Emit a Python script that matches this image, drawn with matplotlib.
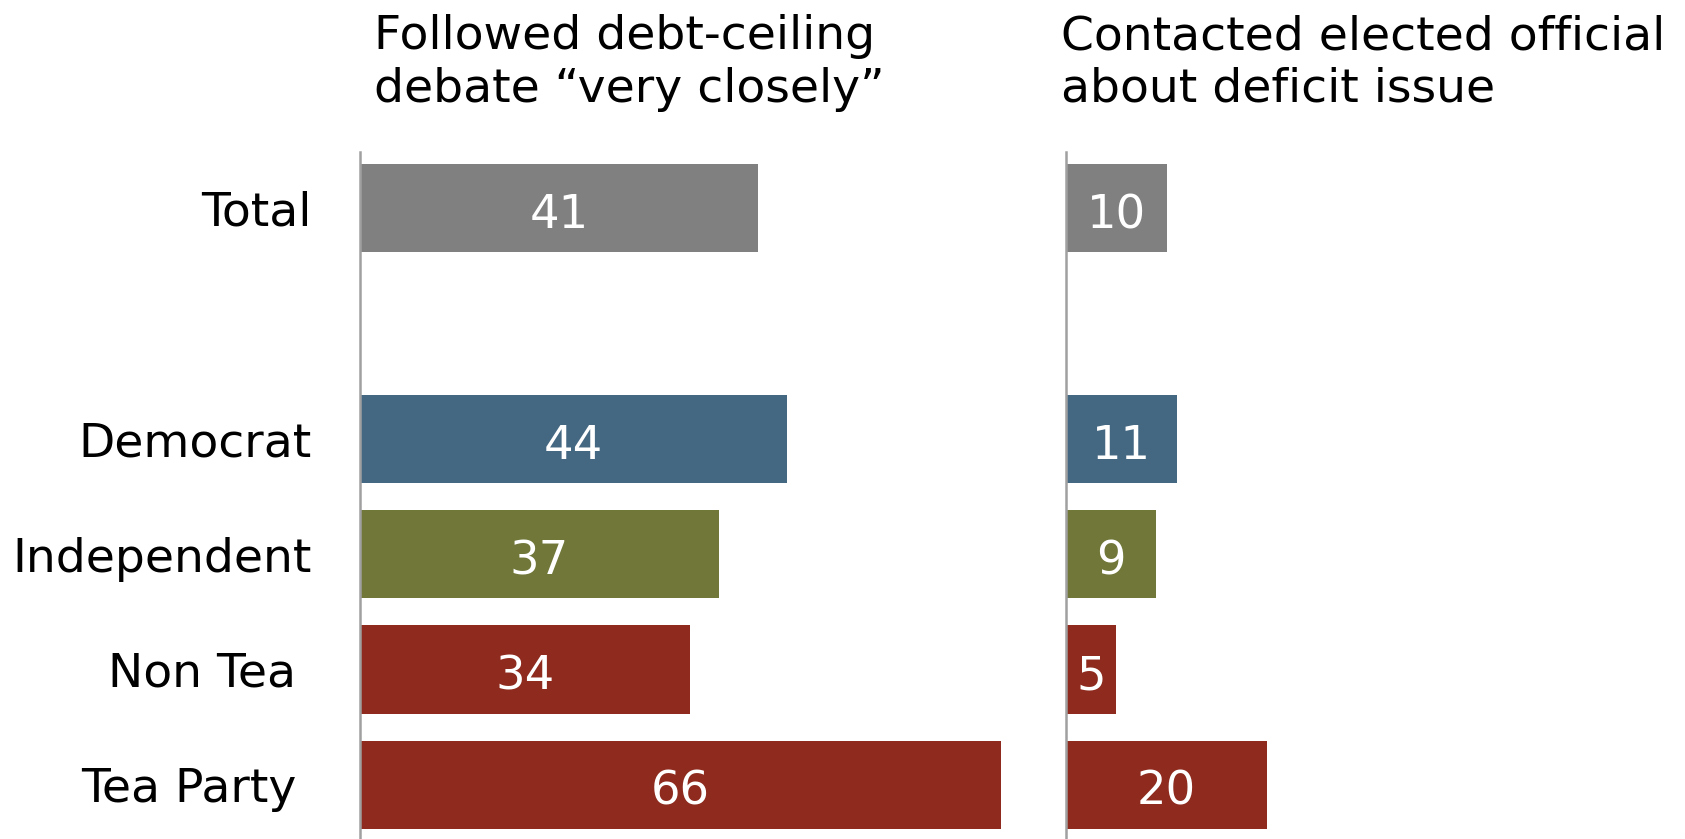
import matplotlib
matplotlib.use("Agg")
import matplotlib.pyplot as plt
from matplotlib.transforms import offset_copy

categories = ["Total", "Democrat", "Independent", "Non Tea ", "Tea Party "]
followed = [41, 44, 37, 34, 66]
contacted = [10, 11, 9, 5, 20]
colors = ["#808080", "#446882", "#707738", "#8E2A1E", "#8E2A1E"]
title_left = ["Followed debt-ceiling", "debate \u201cvery closely\u201d"]
title_right = ["Contacted elected official", "about deficit issue"]

W, H = 1685, 839
fig = plt.figure(figsize=(W / 100, H / 100), dpi=100)
plt.rcParams['font.family'] = ['DejaVu Sans']

pos = [0, 2, 3, 4, 5]
bar_h = 0.765
ax_bottom = 0.0
ax_height = 687 / H

axL = fig.add_axes([360 / W, ax_bottom, 660 / W, ax_height])
axR = fig.add_axes([1066 / W, ax_bottom, 603 / W, ax_height])

for ax, vals, xmax in [(axL, followed, 68), (axR, contacted, 60)]:
    ax.barh(pos, vals, height=bar_h, color=colors, zorder=2)
    tr = offset_copy(ax.transData, fig=fig, x=0, y=-14.5, units='points')
    for p, v in zip(pos, vals):
        ax.text(v / 2, p, str(v), ha='center', va='baseline', color='white',
                fontsize=33.5, transform=tr)
    ax.set_xlim(0, xmax)
    ax.set_ylim(5.47, -0.485)
    for s in ['top', 'right', 'bottom']:
        ax.spines[s].set_visible(False)
    ax.spines['left'].set_color('#A0A0A0')
    ax.spines['left'].set_linewidth(1.8)
    ax.set_xticks([])
    ax.tick_params(axis='y', length=0)

axL.set_yticks(pos)
axL.set_yticklabels(categories, fontsize=34)
axL.tick_params(axis='y', pad=35)
axR.set_yticks([])

for i, line in enumerate(title_left):
    fig.text(374 / W, 1 - (49 + 53 * i) / H, line, fontsize=34,
             ha='left', va='baseline')
for i, line in enumerate(title_right):
    fig.text(1061 / W, 1 - (49 + 53 * i) / H, line, fontsize=34,
             ha='left', va='baseline')

fig.savefig("out.png", dpi=100, facecolor='white')
